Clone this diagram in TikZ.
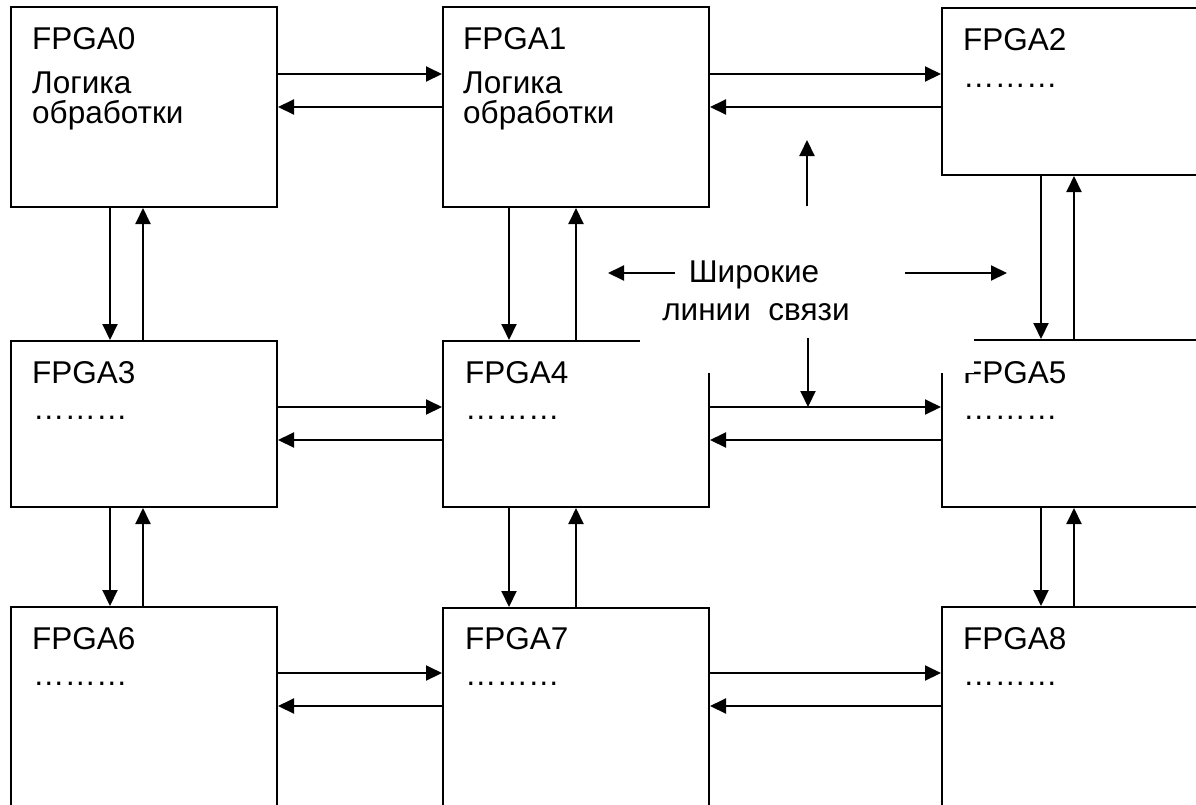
\documentclass[tikz,border=0pt]{standalone}
\usepackage{fontspec}
\setmainfont{Liberation Sans}
\usetikzlibrary{arrows.meta}
\begin{document}
\begin{tikzpicture}[x=1pt,y=-1pt,
  box/.style={draw,line width=2pt,inner sep=0pt,anchor=north west,minimum width=266pt},
  txt/.style={inner sep=0pt,anchor=base west,font=\fontsize{31.5}{36}\selectfont},
  ctxt/.style={inner sep=0pt,anchor=base,font=\fontsize{31.5}{36}\selectfont},
  arr/.style={line width=2pt,-{Triangle[length=16pt,width=15pt]}},
  cover/.style={fill=white,inner sep=0pt,anchor=north west}
  ]
\useasboundingbox (0,0) rectangle (1196,804);
\clip (0,0) rectangle (1196,804);
% boxes
\node[box,minimum height=200pt] (b0) at (10,6) {};
\node[box,minimum height=200pt] (b1) at (442,6) {};
\node[box,minimum height=167pt] (b2) at (941,7) {};
\node[box,minimum height=166pt] (b3) at (10,340) {};
\node[box,minimum height=166pt] (b4) at (442,340) {};
\node[box,minimum height=167pt] (b5) at (941,339) {};
\node[box,minimum height=260pt] (b6) at (10,606) {};
\node[box,minimum height=260pt] (b7) at (442,607) {};
\node[box,minimum height=260pt] (b8) at (941,606) {};
% box texts
\node[txt] (t0a) at (32,49) {FPGA0};
\node[txt] (t0b) at (32,93) {Логика};
\node[txt] (t0c) at (32,123) {обработки};
\node[txt] (t1a) at (463,49) {FPGA1};
\node[txt] (t1b) at (463,93) {Логика};
\node[txt] (t1c) at (463,123) {обработки};
\node[txt] (t2a) at (963,50) {FPGA2};
\node[txt] (t2b) at (963,87) {………};
\node[txt] (t3a) at (32,383) {FPGA3};
\node[txt] (t3b) at (33,419) {………};
\node[txt] (t4a) at (465,383) {FPGA4};
\node[txt] (t4b) at (465,419) {………};
\node[txt] (t5a) at (963,383) {FPGA5};
\node[txt] (t5b) at (963,419) {………};
\node[txt] (t6a) at (32,649) {FPGA6};
\node[txt] (t6b) at (33,685) {………};
\node[txt] (t7a) at (465,649) {FPGA7};
\node[txt] (t7b) at (465,685) {………};
\node[txt] (t8a) at (963,649) {FPGA8};
\node[txt] (t8b) at (963,685) {………};
% label with white background
\node[cover,minimum width=334pt,minimum height=163pt] (lab) at (640,210) {};
\node[ctxt] (lab1) at (754,282) {Широкие};
\node[ctxt] (lab2) at (756,320) {линии\ \ связи};
% horizontal connectors
\draw[arr] (b0.east |- 0,74) -- (b1.west |- 0,74);
\draw[arr] (b1.west |- 0,107) -- (b0.east |- 0,107);
\draw[arr] (b1.east |- 0,74) -- (b2.west |- 0,74);
\draw[arr] (b2.west |- 0,107) -- (b1.east |- 0,107);
\draw[arr] (b3.east |- 0,407) -- (b4.west |- 0,407);
\draw[arr] (b4.west |- 0,440) -- (b3.east |- 0,440);
\draw[arr] (b4.east |- 0,407) -- (b5.west |- 0,407);
\draw[arr] (b5.west |- 0,440) -- (b4.east |- 0,440);
\draw[arr] (b6.east |- 0,673) -- (b7.west |- 0,673);
\draw[arr] (b7.west |- 0,706) -- (b6.east |- 0,706);
\draw[arr] (b7.east |- 0,673) -- (b8.west |- 0,673);
\draw[arr] (b8.west |- 0,706) -- (b7.east |- 0,706);
% vertical connectors
\draw[arr] (b0.south -| 110,0) -- (b3.north -| 110,0);
\draw[arr] (b3.north -| 143,0) -- (b0.south -| 143,0);
\draw[arr] (b1.south -| 509,0) -- (b4.north -| 509,0);
\draw[arr] (b4.north -| 576,0) -- (b1.south -| 576,0);
\draw[arr] (b2.south -| 1041,0) -- (b5.north -| 1041,0);
\draw[arr] (b5.north -| 1074,0) -- (b2.south -| 1074,0);
\draw[arr] (b3.south -| 110,0) -- (b6.north -| 110,0);
\draw[arr] (b6.north -| 143,0) -- (b3.south -| 143,0);
\draw[arr] (b4.south -| 509,0) -- (b7.north -| 509,0);
\draw[arr] (b7.north -| 576,0) -- (b4.south -| 576,0);
\draw[arr] (b5.south -| 1041,0) -- (b8.north -| 1041,0);
\draw[arr] (b8.north -| 1074,0) -- (b5.south -| 1074,0);
% label arrows
\coordinate (lL0) at (675,273); \coordinate (lL1) at (608,273);
\coordinate (lR0) at (905,273); \coordinate (lR1) at (1007,273);
\coordinate (lU0) at (807,206); \coordinate (lU1) at (807,140);
\coordinate (lD0) at (808,338); \coordinate (lD1) at (808,407);
\draw[arr] (lL0) -- (lL1);
\draw[arr] (lR0) -- (lR1);
\draw[arr] (lU0) -- (lU1);
\draw[arr] (lD0) -- (lD1);
\end{tikzpicture}
\end{document}
